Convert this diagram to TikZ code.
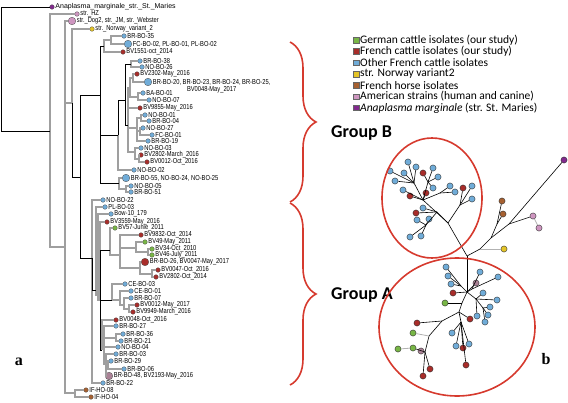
\documentclass[tikz,border=0pt]{standalone}
\usepackage{fontspec}
\setmainfont{Liberation Sans}
\newfontfamily\tipfont[FakeStretch=0.8]{Liberation Sans}
\newfontfamily\legfont{Carlito}
\newfontfamily\panelfont{Liberation Serif}
\usetikzlibrary{decorations.pathreplacing}

\definecolor{german}{RGB}{120,182,70}
\definecolor{french}{RGB}{168,45,42}
\definecolor{other}{RGB}{112,172,216}
\definecolor{norway}{RGB}{228,196,40}
\definecolor{horse}{RGB}{166,96,48}
\definecolor{american}{RGB}{206,150,192}
\definecolor{marginale}{RGB}{130,42,142}
\definecolor{mixed}{RGB}{170,130,150}
\definecolor{grpred}{RGB}{214,58,46}

\begin{document}
\begin{tikzpicture}[x=1pt,y=-1pt,
  leaf/.style={circle,draw=black!70,line width=0.3pt,inner sep=0pt,minimum size=4.6pt},
  bigleaf/.style={leaf,minimum size=7.6pt},
  tip/.style={font=\tipfont\fontsize{7.2}{7.6}\selectfont,inner sep=0.8pt},
  branch/.style={draw=gray!75,line width=1.3pt},
  stem/.style={draw=black,line width=0.6pt},
  udot/.style={circle,draw=black!80,line width=0.4pt,inner sep=0pt,minimum size=6.2pt},
  uedge/.style={draw=black,line width=0.6pt},
  fedge/.style={draw=gray!60,line width=0.8pt},
  key/.style={rectangle,draw=black!60,line width=0.3pt,inner sep=0pt,minimum size=5.6pt},
  keytext/.style={font=\legfont\fontsize{11.5}{12}\selectfont,anchor=west,inner sep=1pt},
  group/.style={font=\legfont\bfseries\fontsize{18}{20}\selectfont,anchor=west,inner sep=0pt},
  panel/.style={font=\panelfont\bfseries\fontsize{16}{18}\selectfont},
  ring/.style={draw=grpred,line width=1.6pt},
  curly/.style={ring,decorate,decoration={brace,amplitude=26pt}}]

\useasboundingbox (0,0) rectangle (568,402);

% tree a: tips
\node[leaf,fill=marginale,label={[tip,font=\fontsize{7}{7.6}\selectfont]right:Anaplasma\_marginale\_str.\_St.\_Maries}] (am) at (52,7) {};
\foreach \n/\x/\y/\c/\s/\t in {
  hz/77/14/american/leaf/str.\_HZ,
  dog/72/21/american/bigleaf/{str.\_Dog2, str.\_JM, str.\_Webster},
  nor/92/29/norway/leaf/str.\_Norway\_variant\_2,
  br35/124/36/other/leaf/BR-BO-35,
  fc02/128/44/other/bigleaf/{FC-BO-02, PL-BO-01, PL-BO-02},
  bv1551/123/52/french/leaf/BV1551-oct\_2014,
  br38/140/61/other/leaf/BR-BO-38,
  no26/142/67/other/leaf/NO-BO-26,
  bv2302/137/74/french/leaf/BV2302-May\_2016,
  ba01/143/93/other/leaf/BA-BO-01,
  no07/149/100/other/leaf/NO-BO-07,
  bv9855/140/108/french/leaf/BV9855-May\_2016,
  no01/145/115/other/leaf/NO-BO-01,
  br04/149/121/other/leaf/BR-BO-04,
  no27/143/128/other/leaf/NO-BO-27,
  fc01/152/135/other/leaf/FC-BO-01,
  br19/148/141/other/leaf/BR-BO-19,
  no03/141/148/other/leaf/NO-BO-03,
  bv2802m/141/155/french/leaf/BV2802-March\_2016,
  bv0012o/147/162/french/leaf/BV0012-Oct\_2016,
  no02/134/170/other/leaf/NO-BO-02,
  br55/126/178/other/bigleaf/{BR-BO-55, NO-BO-24, NO-BO-25},
  no05/131/186/other/leaf/NO-BO-05,
  br51/131/192/other/leaf/BR-BO-51,
  no22/103/200/other/leaf/NO-BO-22,
  pl03/105/207/other/leaf/PL-BO-03,
  bow/111/214/other/leaf/Bow-10\_179,
  bv3559/107/222/french/leaf/BV3559-May\_2016,
  bv57/115/228/german/leaf/BV57-Junie\_2011,
  bv9832/141/235/french/leaf/BV9832-Oct\_2014,
  bv49/145/242/german/leaf/BV49-May\_2011,
  bv34/152/249/german/leaf/BV34-Oct\_2010,
  bv46/152/255/german/leaf/BV46-July\_2011,
  br26/145/262/french/bigleaf/{BR-BO-26, BV0047-May\_2017},
  bv0047o/158/270/french/leaf/BV0047-Oct\_2016,
  bv2802o/156/277/french/leaf/BV2802-Oct\_2014,
  ce03/125/284/other/leaf/CE-BO-03,
  ce01/131/291/other/leaf/CE-BO-01,
  br07/131/298/other/leaf/BR-BO-07,
  bv0012m/137/305/french/leaf/BV0012-May\_2017,
  bv9949/133/312/french/leaf/BV9949-March\_2016,
  bv0048o/116/320/french/leaf/BV0048-Oct\_2016,
  br27/116/326/other/leaf/BR-BO-27,
  br36/123/334/other/leaf/BR-BO-36,
  br21/121/341/other/leaf/BR-BO-21,
  no04/118/347/other/leaf/NO-BO-04,
  br03/116/354/other/leaf/BR-BO-03,
  br29/111/361/other/leaf/BR-BO-29,
  br06/124/369/other/leaf/BR-BO-06,
  br48/109/376/mixed/bigleaf/{BR-BO-48, BV2193-May\_2016},
  br22/103/383/other/leaf/BR-BO-22,
  if08/86/390/horse/leaf/IF-HO-08,
  if04/91/397/horse/leaf/IF-HO-04}
  \node[\s,fill=\c,label={[tip]right:\t}] (\n) at (\x,\y) {};
\node[bigleaf,fill=other,label={[tip,align=center,anchor=north west,yshift=3.8pt]right:BR-BO-20, BR-BO-23, BR-BO-24, BR-BO-25,\\BV0048-May\_2017}] (br20) at (148,82) {};

% tree a: inner nodes
\foreach \n/\x/\y in {r0/1/69, n1/50/131, n2/65/247, n3/72/103, n4/80/177,
  gB/100/95, b1/104/46, b11/111/40, b21/131/64, b22/133/78, b23/138/97,
  b24/130/88, b25/141/118, b26/140/131, b27/137/128, b28/135/152, b29/139/159,
  b3/128/125, b4/125/100, b6/118/135, b51/126/189, b5/119/183,
  gA/92/258, a1/96/290, a2/98/295, a3/100/300, a4/110/250, a5/120/255,
  a6/136/248, a62/148/252, a7/140/268, a71/152/274, a9/112/300, a91/120/300,
  a92/124/305, a93/129/309, a10/102/350, a11/104/348, a12/116/338,
  a13/106/364, a14/108/365, ih/75/393}
  \coordinate (\n) at (\x,\y);

\foreach \p/\c in {n1/hz, n1/n2, n2/dog, n2/n3, n2/ih, ih/if08, ih/if04, n3/nor,
  b1/b11, b11/br35, b11/fc02, b1/bv1551, b21/br38, b21/no26, b22/bv2302, b22/br20,
  b23/ba01, b23/no07, b24/b22, b24/b23, b25/no01, b25/br04, b26/no27, b26/fc01,
  b27/b25, b27/b26, b27/br19, b28/no03, b28/b29, b29/bv2802m, b29/bv0012o,
  b3/b24, b3/bv9855, b3/b27, b3/b28, b6/no02, b5/br55, b5/b51, b51/no05, b51/br51,
  gA/no22, gA/br22, a1/pl03, a1/a2, a2/bow, a2/a3, a3/bv3559, a4/bv57, a4/a5,
  a5/bv9832, a5/a6, a5/a7, a6/bv49, a6/a62, a62/bv34, a62/bv46, a7/br26, a7/a71,
  a71/bv0047o, a71/bv2802o, a9/ce03, a9/a91, a91/ce01, a91/a92, a92/br07, a92/a93,
  a93/bv0012m, a93/bv9949, a10/bv0048o, a10/a11, a11/br27, a11/a12, a11/no04,
  a11/a13, a12/br36, a12/br21, a13/br03, a13/a14, a13/br48, a14/br29, a14/br06}
  \draw[branch] (\p) |- (\c);
\foreach \p/\c in {r0/am, r0/n1, n3/n4, n4/gB, n4/gA, gB/b1, gB/b6, gB/b5,
  b6/b4, b4/b21, b4/b3, gA/a1, a3/a4, a3/a9, a3/a10}
  \draw[stem] (\p) |- (\c);

% braces and groups
\draw[curly] (290,42) -- (290,202);
\draw[curly] (290,203) -- (290,385);
\node[group] (grpB) at (331,133) {Group B};
\node[group] (grpA) at (331,295) {Group A};

% legend
\foreach \c/\y/\t in {german/40/German cattle isolates (our study),
  french/51.3/French cattle isolates (our study),
  other/62.6/Other French cattle isolates,
  norway/73.9/str. Norway variant2,
  horse/85.2/French horse isolates,
  american/96.5/American strains (human and canine),
  marginale/107.8/\textit{Anaplasma marginale} (str. St. Maries)}
  \node[key,fill=\c,label={[keytext]right:\t}] (key-\c) at (356,\y) {};

% network b
\foreach \n/\x/\y in {hc/467/256, hB1/448/223, hB2/423/200, hB2a/414/183,
  hB2b/428/182, hB2c/440/193, hB3/460/205, hB4/437/212, hB5/426/225,
  hO1/480/249, hO2/491/238, hO3/497/224, hO4/509/224,
  hA1/467/292, hA2/461/286, hA3/472/289, hA4/476/299, hA5/483/308,
  hA6/462/303, hA7/459/312, hA8/461/322, hA9/442/321, hA10/429/336, hA11/425/352}
  \coordinate (\n) at (\x,\y);
\foreach \n/\x/\y/\c in {q1/408/162/other, q2/416/167/other, q3/404/173/other,
  q4/390/171/other, q5/395/181/other, q6/403/190/other, q7/433/168/other,
  q8/438/177/other, q9/433/188/other, q10/450/186/other, q11/455/192/other,
  q12/472/186/other, q13/472/199/other, q14/423/208/other, q15/417/220/other,
  q16/429/219/other, q17/410/237/other, q18/421/236/other,
  r1/423/173/french, r2/426/193/french, r3/410/196/french, r4/463/188/french,
  r5/416/213/french,
  m1/564/160/marginale, p1/533/216/american, p2/539/228/american,
  h1/502/201/horse, h2/503/214/horse, y1/504/249/norway,
  s1/446/267/other, s2/448/276/other, s3/451/284/other, s4/480/272/other,
  s5/498/277/other, s6/483/293/other, s7/497/300/other, s8/490/307/other,
  s9/488/315/other, s10/477/316/other, s11/485/322/other, s12/452/333/other,
  s13/456/346/other, s14/469/344/other, g1/476/283/mixed, g2/421/351/mixed,
  t1/453/293/french, t2/470/319/french, t3/417/323/french, t4/463/348/french,
  t5/466/365/french, t6/430/369/french, t7/423/376/french,
  u1/445/303/german, u2/413/333/german, u3/398/349/german, u4/413/348/german}
  \node[udot,fill=\c] (\n) at (\x,\y) {};
\foreach \a/\b in {hc/hB1, hB1/hB2, hB1/hB3, hB1/hB4, hB2/hB2a, hB2/hB2b, hB2/hB2c,
  hB2a/q1, hB2a/q2, hB2a/q3, hB2a/q4, hB2a/q5, hB2/q6, hB2/r3, hB2/r2,
  hB2b/q7, hB2b/q8, hB2b/r1, hB2b/q9, hB2c/q10, hB2c/q11,
  hB3/q12, hB3/q13, hB3/r4, hB4/q14, hB4/r5, hB4/hB5,
  hB5/q15, hB5/q16, hB5/q17, hB5/q18,
  hc/hO1, hO1/hO2, hO2/hO3, hO3/h1, hO3/h2, hO2/hO4, hO4/m1, hO4/p1,
  hc/hA1, hA1/hA2, hA2/s1, hA2/s2, hA2/s3, hA1/g1, hA1/t1, hA1/hA3, hA3/s4, hA3/s5,
  hA1/hA4, hA4/s6, hA4/s7, hA4/hA5, hA5/s8, hA5/s9, hA5/s11, hA4/s10,
  hA1/hA6, hA6/u1, hA6/hA7, hA7/t2, hA7/hA8, hA8/s12, hA8/s13, hA8/s14,
  hA8/t4, hA8/t5, hA7/hA9, hA9/t3, hA9/hA10, hA10/hA11,
  hA11/g2, hA11/u4, hA11/t6, hA11/t7}
  \draw[uedge] (\a) -- (\b);
\foreach \a/\b in {hO1/y1, p1/p2, hA10/u2, u4/u3}
  \draw[fedge] (\a) -- (\b);
\draw[ring] (432,198) ellipse [x radius=50, y radius=60];
\draw[ring] (457,327) ellipse [x radius=78, y radius=69];

\node[panel] (lblA) at (19,362) {a};
\node[panel] (lblB) at (546,359) {b};
\end{tikzpicture}
\end{document}
